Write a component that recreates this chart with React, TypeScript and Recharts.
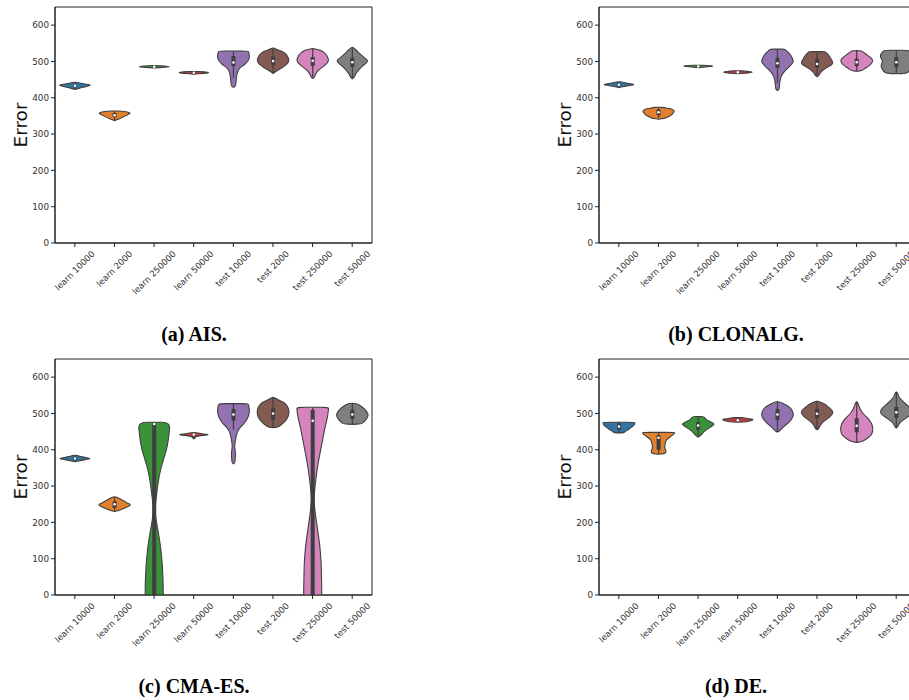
import { BarChart, Bar, XAxis, YAxis, ReferenceArea } from "recharts";

const CATEGORIES = [
  "learn 10000",
  "learn 2000",
  "learn 250000",
  "learn 50000",
  "test 10000",
  "test 2000",
  "test 250000",
  "test 50000",
];

const Y_TICKS = [0, 100, 200, 300, 400, 500, 600];

// seaborn default palette (desaturated tab10)
const PALETTE = ["#3274a1", "#e1812c", "#3a923a", "#c03d3e", "#9372b2", "#845b53", "#d684bd", "#7f7f7f"];

// violin outlines: [error value, relative half width 0..1]
const AIS_OUTLINES = [
  [[423, 0], [426, 0.25], [429, 0.5], [432, 0.85], [435, 1], [438, 0.6], [441, 0.3], [443, 0]],
  [[337, 0], [340, 0.18], [343, 0.35], [349, 0.63], [354, 0.85], [358, 1], [361, 0.8], [363, 0.45], [364, 0]],
  [[482, 0], [484, 0.7], [485.5, 1], [487, 0.7], [489, 0]],
  [[465, 0], [467, 0.6], [469, 1], [471, 0.7], [473, 0]],
  [[429, 0], [431, 0.1], [436, 0.15], [455, 0.18], [473, 0.25], [482, 0.39], [491, 0.68], [500, 0.9], [510, 1], [520, 0.98], [526, 0.95], [529, 0.9], [529, 0]],
  [[467, 0], [471, 0.12], [479, 0.42], [488, 0.74], [496, 0.95], [504, 1], [512, 0.92], [520, 0.84], [526, 0.62], [530, 0.45], [535, 0.15], [538, 0]],
  [[453, 0], [456, 0.08], [460, 0.13], [467, 0.2], [474, 0.32], [481, 0.5], [488, 0.71], [496, 0.92], [504, 1], [512, 0.93], [520, 0.84], [526, 0.65], [530, 0.53], [534, 0.2], [536, 0]],
  [[452, 0], [456, 0.1], [463, 0.18], [470, 0.27], [477, 0.4], [484, 0.55], [493, 0.8], [502, 1], [511, 0.74], [520, 0.5], [525, 0.38], [530, 0.27], [536, 0.12], [540, 0]],
];
// inner box: [whisker low, q1, median, q3, whisker high]
const AIS_BOXES = [
  [425, 430, 433, 436, 441],
  [338, 347, 352, 358, 363],
  [483, 484.5, 485.5, 486.5, 488],
  [466, 468, 469, 470, 472],
  [455, 487, 497, 515, 528],
  [470, 490, 501, 513, 535],
  [457, 488, 502, 512, 534],
  [455, 485, 498, 510, 538],
];

const CLONALG_OUTLINES = [
  [[428, 0], [431, 0.3], [434, 0.7], [436.5, 1], [439, 0.6], [442, 0.3], [445, 0]],
  [[341, 0], [343, 0.35], [347, 0.58], [351, 0.75], [355, 0.86], [360, 0.95], [364, 1], [368, 0.85], [371, 0.6], [373, 0.35], [374, 0]],
  [[483, 0], [485, 0.6], [487, 1], [489, 0.6], [490, 0]],
  [[466, 0], [468, 0.5], [470.5, 1], [473, 0.6], [475, 0]],
  [[420, 0], [423, 0.1], [430, 0.12], [442, 0.14], [451, 0.18], [460, 0.24], [467, 0.34], [474, 0.47], [481, 0.63], [488, 0.79], [495, 0.93], [501, 1], [510, 0.92], [520, 0.79], [526, 0.65], [530, 0.55], [534, 0.45], [534, 0]],
  [[458, 0], [461, 0.1], [466, 0.17], [472, 0.26], [478, 0.42], [483, 0.58], [488, 0.8], [494, 1], [501, 0.95], [508, 0.85], [515, 0.76], [521, 0.65], [525, 0.55], [527, 0.5], [527, 0]],
  [[473, 0], [474, 0.25], [477, 0.4], [481, 0.53], [486, 0.7], [491, 0.84], [496, 0.95], [502, 1], [507, 0.95], [511, 0.86], [516, 0.7], [520, 0.58], [525, 0.42], [529, 0.32], [530, 0]],
  [[466, 0], [467, 0.6], [472, 0.78], [480, 0.9], [488, 0.96], [495, 0.9], [501, 0.86], [508, 0.95], [515, 1], [522, 0.95], [528, 0.82], [531, 0.7], [531, 0]],
];
const CLONALG_BOXES = [
  [429, 433, 436, 439, 444],
  [344, 352, 360, 368, 372],
  [484, 485, 486, 487, 488],
  [467, 469, 470, 471, 473],
  [440, 482, 495, 510, 534],
  [462, 483, 493, 507, 525],
  [473, 487, 498, 508, 529],
  [467, 484, 498, 512, 528],
];

const CMAES_OUTLINES = [
  [[367, 0], [370, 0.3], [373, 0.7], [376, 1], [379, 0.6], [382, 0.3], [386, 0]],
  [[230, 0], [233, 0.25], [237, 0.5], [241, 0.7], [245, 0.92], [249, 1], [253, 0.8], [257, 0.65], [262, 0.45], [267, 0.28], [272, 0]],
  [[-150, 0], [-120, 0.3], [-80, 0.45], [-40, 0.53], [0, 0.57], [50, 0.55], [100, 0.48], [150, 0.35], [200, 0.14], [230, 0.05], [250, 0.08], [300, 0.21], [350, 0.4], [400, 0.79], [440, 0.92], [476, 1], [476, 0]],
  [[430, 0], [432, 0.06], [436, 0.1], [439, 0.4], [441.5, 1], [444, 0.6], [446, 0.25], [448, 0]],
  [[361, 0], [364, 0.08], [370, 0.1], [380, 0.12], [390, 0.13], [400, 0.1], [410, 0.07], [420, 0.1], [436, 0.16], [454, 0.28], [465, 0.5], [475, 0.72], [490, 0.93], [505, 1], [515, 0.98], [522, 0.95], [527, 0.9], [527, 0]],
  [[461, 0], [462, 0.25], [465, 0.38], [469, 0.5], [476, 0.7], [483, 0.84], [492, 0.95], [501, 1], [509, 0.98], [515, 0.95], [522, 0.85], [529, 0.72], [534, 0.5], [538, 0.32], [542, 0.15], [545, 0]],
  [[-150, 0], [-120, 0.3], [-80, 0.48], [-40, 0.55], [0, 0.57], [45, 0.55], [89, 0.53], [135, 0.45], [181, 0.3], [227, 0.15], [260, 0.08], [273, 0.09], [319, 0.19], [365, 0.34], [411, 0.55], [457, 0.74], [490, 0.93], [510, 0.98], [517, 1], [517, 0]],
  [[470, 0], [471, 0.55], [476, 0.7], [483, 0.87], [490, 0.95], [497, 1], [503, 0.92], [510, 0.82], [516, 0.65], [522, 0.47], [526, 0.3], [529, 0]],
];
const CMAES_BOXES = [
  [368, 372, 376, 380, 385],
  [232, 240, 250, 258, 270],
  [-200, -100, 471, 474, 476],
  [432, 440, 442, 444, 447],
  [455, 480, 497, 512, 527],
  [463, 482, 500, 515, 543],
  [-200, -100, 480, 510, 517],
  [471, 485, 497, 510, 528],
];

const DE_OUTLINES = [
  [[446, 0], [447, 0.3], [451, 0.42], [456, 0.6], [460, 0.72], [465, 0.88], [469, 0.96], [473, 1], [476, 0.98], [476, 0]],
  [[388, 0], [389, 0.35], [393, 0.47], [398, 0.45], [405, 0.38], [412, 0.39], [418, 0.42], [423, 0.45], [428, 0.5], [433, 0.65], [437, 0.77], [442, 0.92], [446, 1], [448, 1], [448, 0]],
  [[435, 0], [437, 0.08], [441, 0.19], [447, 0.3], [453, 0.44], [458, 0.62], [464, 0.82], [468, 0.95], [471.5, 1], [476, 0.8], [482, 0.53], [487, 0.42], [491, 0.35], [492, 0]],
  [[476, 0], [477, 0.55], [480, 0.8], [483, 1], [486, 0.7], [488, 0.35], [489, 0]],
  [[449, 0], [451, 0.12], [454, 0.18], [458, 0.26], [464, 0.42], [470, 0.57], [476, 0.72], [483, 0.86], [490, 0.95], [497, 1], [505, 0.95], [513, 0.86], [519, 0.7], [525, 0.47], [530, 0.25], [533, 0]],
  [[455, 0], [458, 0.1], [463, 0.15], [468, 0.22], [474, 0.31], [481, 0.5], [488, 0.73], [495, 0.9], [502, 1], [507, 0.95], [511, 0.88], [518, 0.7], [525, 0.5], [530, 0.3], [535, 0]],
  [[420, 0], [422, 0.25], [425, 0.45], [430, 0.62], [436, 0.8], [442, 0.93], [448, 0.98], [455, 1], [462, 1], [470, 0.95], [476, 0.88], [482, 0.78], [488, 0.68], [495, 0.5], [502, 0.36], [510, 0.24], [520, 0.14], [528, 0.08], [533, 0]],
  [[460, 0], [463, 0.08], [468, 0.14], [474, 0.2], [481, 0.4], [488, 0.62], [495, 0.85], [502, 1], [511, 0.95], [518, 0.8], [525, 0.62], [531, 0.45], [538, 0.32], [544, 0.18], [550, 0.12], [556, 0.08], [560, 0]],
];
const DE_BOXES = [
  [447, 456, 464, 473, 476],
  [389, 400, 433, 440, 448],
  [436, 455, 467, 476, 491],
  [477, 479, 481, 484, 488],
  [450, 482, 497, 512, 533],
  [456, 487, 499, 512, 535],
  [421, 448, 466, 487, 533],
  [460, 488, 503, 518, 560],
];

type Pt = number[];

function buildRows(outlines: Pt[][], boxes: number[][]) {
  return CATEGORIES.map((name, i) => {
    const vals = outlines[i].map((p) => p[0]);
    return {
      name,
      range: [Math.min(...vals), Math.max(...vals)],
      outline: outlines[i],
      box: boxes[i],
    };
  });
}

const PANELS = [
  { id: "a", title: "(a) AIS.", rows: buildRows(AIS_OUTLINES, AIS_BOXES), left: 0, top: 0, titleX: 194 },
  { id: "b", title: "(b) CLONALG.", rows: buildRows(CLONALG_OUTLINES, CLONALG_BOXES), left: 544, top: 0, titleX: 192 },
  { id: "c", title: "(c) CMA-ES.", rows: buildRows(CMAES_OUTLINES, CMAES_BOXES), left: 0, top: 352, titleX: 194 },
  { id: "d", title: "(d) DE.", rows: buildRows(DE_OUTLINES, DE_BOXES), left: 544, top: 352, titleX: 192 },
];

const CHART_W = 380;
const CHART_H = 343;
const PLOT_TOP = 7;
const Y_AXIS_W = 55;
const LINE = "#3f3f3f";

// rough DejaVu Sans advance widths (em)
const CHAR_W: Record<string, number> = {
  l: 0.278, e: 0.615, a: 0.613, r: 0.411, n: 0.634, " ": 0.318, t: 0.392, s: 0.521,
};
const textWidth = (s: string, fs: number) =>
  s.split("").reduce((acc, c) => acc + (CHAR_W[c] ?? 0.636), 0) * fs;

function RotatedTick(props: any) {
  const { x, y, payload } = props;
  const fs = 8.6;
  const label = String(payload.value);
  const half = (textWidth(label, fs) + 0.73 * fs) / (2 * Math.SQRT2);
  return (
    <text
      x={0}
      y={0}
      transform={`translate(${x},${y + 1 + half}) rotate(-45)`}
      textAnchor="middle"
      dominantBaseline="central"
      fontSize={fs}
      fontFamily="DejaVu Sans"
      fill="#333"
    >
      {label}
    </text>
  );
}

// open path smoothed through midpoints, vertices used as control points
function smooth(pts: number[][]) {
  let d = `M${pts[0][0]},${pts[0][1]}`;
  const mid = (p: number[], q: number[]) => [(p[0] + q[0]) / 2, (p[1] + q[1]) / 2];
  d += ` L${mid(pts[0], pts[1]).join(",")}`;
  for (let i = 1; i < pts.length - 1; i++) {
    const m = mid(pts[i], pts[i + 1]);
    d += ` Q${pts[i][0]},${pts[i][1]} ${m[0]},${m[1]}`;
  }
  d += ` L${pts[pts.length - 1].join(",")}`;
  return d;
}

function ViolinShape(props: any) {
  const { x, y, width, height, payload, index } = props;
  if (!payload || !payload.outline) return null;
  const [lo, hi] = payload.range;
  const span = hi - lo || 1;
  const py = (v: number) => y + ((hi - v) / span) * height;
  const cx = x + width / 2;
  const hw = width / 2;
  const right = payload.outline.map(([v, w]: number[]) => [cx + hw * w, py(v)]);
  const left = payload.outline
    .slice()
    .reverse()
    .map(([v, w]: number[]) => [cx - hw * w, py(v)]);
  const d = smooth([...right, ...left.slice(1)]) + " Z";
  const [wlo, q1, med, q3, whi] = payload.box;
  return (
    <g>
      <path d={d} fill={PALETTE[index % PALETTE.length]} stroke={LINE} strokeWidth={1.1} strokeLinejoin="round" />
      <line x1={cx} x2={cx} y1={py(whi)} y2={py(wlo)} stroke={LINE} strokeWidth={1.2} />
      <rect x={cx - 2} width={4} y={py(q3)} height={Math.max(py(q1) - py(q3), 1)} fill={LINE} />
      <circle cx={cx} cy={py(med)} r={1.3} fill="#fff" />
    </g>
  );
}

function Panel({ rows }: { rows: any[] }) {
  return (
    <BarChart
      width={CHART_W}
      height={CHART_H}
      data={rows}
      margin={{ top: PLOT_TOP, right: 8, bottom: 0, left: 0 }}
      barCategoryGap="10%"
    >
      <XAxis
        dataKey="name"
        interval={0}
        height={100}
        tick={(p: any) => <RotatedTick {...p} />}
        tickSize={4}
        tickMargin={2}
        axisLine={{ stroke: "#222" }}
        tickLine={{ stroke: "#222" }}
      />
      <YAxis
        type="number"
        domain={[0, 650]}
        allowDataOverflow
        ticks={Y_TICKS}
        width={Y_AXIS_W}
        tickSize={4}
        tickMargin={2}
        tick={{ fontSize: 8.8, fill: "#333", fontFamily: "DejaVu Sans" }}
        axisLine={{ stroke: "#222" }}
        tickLine={{ stroke: "#222" }}
      />
      <Bar dataKey="range" shape={(p: any) => <ViolinShape {...p} />} isAnimationActive={false} />
      <ReferenceArea
        x1={CATEGORIES[0]}
        x2={CATEGORIES[CATEGORIES.length - 1]}
        y1={0}
        y2={650}
        fill="none"
        fillOpacity={0}
        stroke="#222"
        strokeWidth={1}
        ifOverflow="visible"
      />
    </BarChart>
  );
}

export default function App() {
  return (
    <div
      style={{
        position: "absolute",
        left: 0,
        top: 0,
        width: 909,
        height: 700,
        overflow: "hidden",
        background: "#fff",
      }}
    >
      {PANELS.map((p) => (
        <div key={p.id} style={{ position: "absolute", left: p.left, top: p.top }}>
          <Panel rows={p.rows} />
        </div>
      ))}
      <svg width={909} height={700} style={{ position: "absolute", left: 0, top: 0, pointerEvents: "none" }}>
        {PANELS.map((p) => (
          <g key={p.id}>
            <text
              transform={`translate(${p.left + Y_AXIS_W - 28},${p.top + PLOT_TOP + 118}) rotate(-90)`}
              textAnchor="middle"
              fontSize={18.5}
              fontFamily="DejaVu Sans"
              fill="#111"
            >
              Error
            </text>
            <text
              x={p.left + p.titleX}
              y={p.top + 341}
              textAnchor="middle"
              fontSize={20}
              fontWeight="bold"
              fontFamily="Liberation Serif"
              fill="#000"
            >
              {p.title}
            </text>
          </g>
        ))}
      </svg>
    </div>
  );
}
